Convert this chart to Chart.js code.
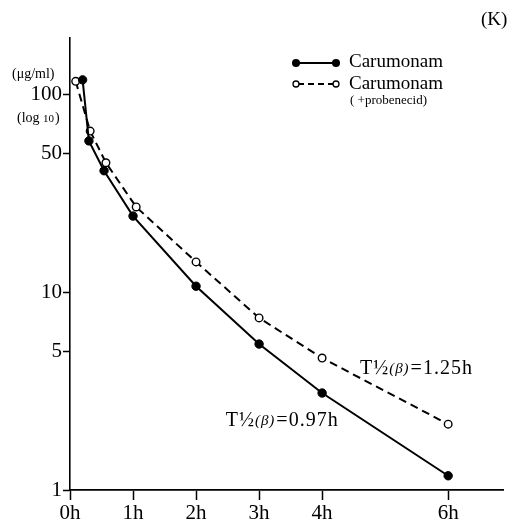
<!DOCTYPE html>
<html><head><meta charset="utf-8">
<script src="https://cdn.jsdelivr.net/npm/chart.js@4/dist/chart.umd.min.js"></script>
<style>html,body{margin:0;padding:0;background:#fff}canvas{display:block}</style>
</head><body>
<canvas id="c" width="523" height="523"></canvas>
<script>
// Data
const timeSolid = [0.2, 0.3, 0.54, 1.0, 2.0, 3.0, 4.0, 6.0];
const carumonam = [118, 58, 41, 24.2, 10.7, 5.46, 3.09, 1.18];
const timeOpen = [0.09, 0.32, 0.57, 1.05, 2.0, 3.0, 4.0, 6.0];
const carumonamProbenecid = [116, 65, 45, 26.9, 14.2, 7.4, 4.64, 2.15];
const xTicks = [0, 1, 2, 3, 4, 6];
const yTicks = [1, 5, 10, 50, 100];
const seriesNames = ['Carumonam', 'Carumonam'];
const legendSub = '( +probenecid)';
const halfLifeSolid = ['T½', '(β)', '=0.97h'];
const halfLifeOpen = ['T½', '(β)', '=1.25h'];
const panelLabel = '(K)';

const SERIF = '"Liberation Serif","DejaVu Serif",serif';

const toPts = (xs, ys) => xs.map((x, i) => ({x, y: ys[i]}));

function drawHalfLife(ctx, parts, x, y) {
  ctx.letterSpacing = '1px';
  ctx.font = '20px ' + SERIF;
  ctx.fillText(parts[0], x, y);
  x += ctx.measureText(parts[0]).width;
  ctx.font = 'italic 15px ' + SERIF;
  ctx.fillText(parts[1], x, y);
  x += ctx.measureText(parts[1]).width + 1;
  ctx.font = '20px ' + SERIF;
  ctx.fillText(parts[2], x, y);
  ctx.letterSpacing = '0px';
}

const textPlugin = {
  id: 'texts',
  afterDraw(chart) {
    const ctx = chart.ctx;
    const xs = chart.scales.x, ys = chart.scales.y;
    ctx.save();
    ctx.fillStyle = '#000';
    ctx.strokeStyle = '#000';
    ctx.textBaseline = 'middle';
    ctx.textAlign = 'left';
    // panel label
    ctx.font = '19px ' + SERIF;
    ctx.fillText(panelLabel, 481, 20);
    // unit labels
    ctx.font = '14px ' + SERIF;
    ctx.fillText('(μg/ml)', 12, 74);
    ctx.fillText('(log ', 17, 118);
    let w = ctx.measureText('(log ').width;
    ctx.font = '11px ' + SERIF;
    ctx.fillText('10', 17 + w, 119);
    let w2 = ctx.measureText('10').width;
    ctx.font = '14px ' + SERIF;
    ctx.fillText(')', 17 + w + w2 + 1, 118);
    // legend
    ctx.lineWidth = 2;
    ctx.setLineDash([]);
    ctx.beginPath(); ctx.moveTo(296, 63); ctx.lineTo(336, 63); ctx.stroke();
    [296, 336].forEach(px => { ctx.beginPath(); ctx.arc(px, 63, 4, 0, Math.PI*2); ctx.fill(); });
    ctx.lineWidth = 1.8;
    ctx.setLineDash([6, 4]);
    ctx.beginPath(); ctx.moveTo(298, 84); ctx.lineTo(334, 84); ctx.stroke();
    ctx.setLineDash([]);
    ctx.lineWidth = 1.3;
    [296, 336].forEach(px => { ctx.beginPath(); ctx.arc(px, 84, 3, 0, Math.PI*2); ctx.fillStyle='#fff'; ctx.fill(); ctx.stroke(); });
    ctx.fillStyle = '#000';
    ctx.font = '19px ' + SERIF;
    ctx.fillText(seriesNames[0], 349, 62);
    ctx.fillText(seriesNames[1], 349, 84);
    ctx.font = '13px ' + SERIF;
    ctx.fillText(legendSub, 350, 101);
    // half-life annotations placed in data coordinates
    drawHalfLife(ctx, halfLifeOpen, xs.getPixelForValue(4.6), ys.getPixelForValue(4.1));
    drawHalfLife(ctx, halfLifeSolid, xs.getPixelForValue(2.47), ys.getPixelForValue(2.23));
    ctx.restore();
  }
};

new Chart(document.getElementById('c'), {
  type: 'scatter',
  data: {
    datasets: [
      {
        label: seriesNames[0],
        data: toPts(timeSolid, carumonam),
        showLine: true, borderColor: '#000', borderWidth: 2,
        pointRadius: 4.2, pointBackgroundColor: '#000', pointBorderColor: '#000', pointBorderWidth: 1,
        tension: 0
      },
      {
        label: seriesNames[1] + ' ' + legendSub,
        data: toPts(timeOpen, carumonamProbenecid),
        showLine: true, borderColor: '#000', borderWidth: 2, borderDash: [8, 5],
        pointRadius: 3.8, pointBackgroundColor: '#fff', pointBorderColor: '#000', pointBorderWidth: 1.4,
        tension: 0
      }
    ]
  },
  options: {
    responsive: false,
    animation: false,
    layout: { padding: { top: 38, right: 20, left: 0, bottom: 0 } },
    plugins: { legend: { display: false }, tooltip: { enabled: false } },
    scales: {
      x: {
        type: 'linear', min: 0, max: 6.87,
        afterBuildTicks: s => { s.ticks = xTicks.map(v => ({value: v})); },
        afterFit: s => { s.height = 33; },
        grid: { drawOnChartArea: false, drawTicks: true, tickLength: 10, tickWidth: 1.5, tickColor: '#000' },
        border: { display: true, color: '#000', width: 1.8 },
        ticks: { color: '#000', padding: 1, font: { family: SERIF, size: 21 }, callback: v => v + 'h', maxRotation: 0, autoSkip: false }
      },
      y: {
        type: 'logarithmic', min: 1, max: 192,
        afterBuildTicks: s => { s.ticks = yTicks.map(v => ({value: v})); },
        afterFit: s => { s.width = 70; },
        grid: { drawOnChartArea: false, drawTicks: true, tickLength: 7, tickWidth: 1.5, tickColor: '#000' },
        border: { display: true, color: '#000', width: 1.6 },
        ticks: { color: '#000', padding: 1, font: { family: SERIF, size: 21 }, callback: v => String(v), autoSkip: false }
      }
    }
  },
  plugins: [textPlugin]
});
</script>
</body></html>
